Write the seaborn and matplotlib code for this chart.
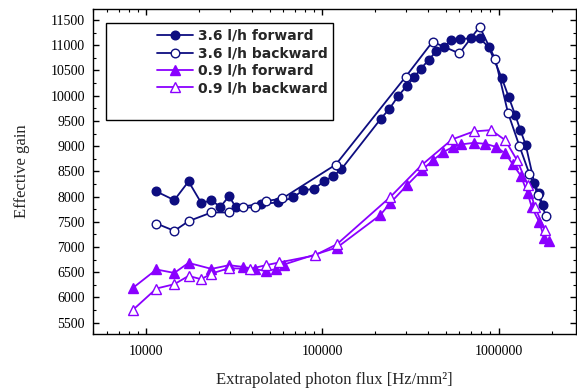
import numpy as np
import pandas as pd
import seaborn as sns
import matplotlib
matplotlib.use("Agg")
import matplotlib.pyplot as plt
from matplotlib.ticker import LogLocator, FixedLocator, FuncFormatter, MultipleLocator
from matplotlib.patches import Rectangle

# photon flux [Hz/mm2] and effective gain
flux_36_fwd = [11390, 14390, 17340, 20460, 23390, 26300, 29440, 32230, 44650, 56120,
               68200, 77640, 89700, 101700, 114300, 127700, 214300, 239900, 269800, 300600,
               331100, 360600, 400200, 443900, 488900, 539700, 602300, 694700, 781000, 881700,
               1044000, 1143000, 1245000, 1328000, 1426000, 1597000, 1690000, 1779000]
gain_36_fwd = [8101, 7929, 8300, 7875, 7923, 7796, 8008, 7784, 7855, 7883,
               7982, 8127, 8153, 8300, 8399, 8538, 9542, 9740, 9998, 10190,
               10363, 10528, 10706, 10885, 10964, 11097, 11117, 11143, 11143, 10958,
               10349, 9972, 9615, 9327, 9030, 8272, 8068, 7840]

flux_36_bwd = [11390, 14390, 17340, 23390, 29440, 35520, 41290, 47640, 59130, 118900,
               296700, 421700, 598700, 781000, 959100, 1132000, 1315000, 1496000, 1682000, 1862000]
gain_36_bwd = [7466, 7320, 7512, 7685, 7685, 7784, 7784, 7909, 7963, 8633,
               10375, 11069, 10839, 11367, 10720, 9661, 9000, 8455, 8028, 7611]

flux_09_fwd = [8333, 11390, 14390, 17340, 23390, 29440, 35520, 41290, 47640, 54240,
               60430, 120900, 212600, 242200, 302100, 366300, 425300, 484400, 548100, 612400,
               725000, 842100, 969200, 1092000, 1205000, 1337000, 1465000, 1542000, 1706000, 1820000,
               1923000]
gain_09_fwd = [6183, 6554, 6486, 6685, 6566, 6639, 6605, 6560, 6526, 6560,
               6653, 6990, 7631, 7869, 8226, 8524, 8722, 8881, 8980, 9034,
               9066, 9046, 8986, 8855, 8643, 8415, 8062, 7796, 7492, 7175,
               7121]

flux_09_bwd = [8333, 11390, 14390, 17340, 20460, 23390, 29440, 38710, 47640, 56620,
               90140, 120900, 242200, 365400, 544600, 723400, 908000, 1092000, 1273000, 1468000,
               1614000, 1827000]
gain_09_bwd = [5746, 6177, 6262, 6427, 6361, 6474, 6580, 6566, 6639, 6693,
               6832, 7056, 7988, 8623, 9133, 9292, 9318, 9119, 8722, 8226,
               7790, 7340]

labels = ["3.6 l/h forward", "3.6 l/h backward", "0.9 l/h forward", "0.9 l/h backward"]
x_ticks = [10000, 100000, 1000000]
y_ticks = list(range(5500, 12000, 500))

navy = "#0d0d80"
violet = "#8a00ff"

sns.set_style("ticks")
plt.rcParams["font.family"] = ["Liberation Serif", "DejaVu Serif"]

fig, ax = plt.subplots(figsize=(5.77, 3.90), dpi=100)
fig.subplots_adjust(left=0.1607, right=0.998, top=0.977, bottom=0.1436)

series = [
    (flux_36_fwd, gain_36_fwd, navy, "o", navy, 6.2),
    (flux_36_bwd, gain_36_bwd, navy, "o", "white", 6.2),
    (flux_09_fwd, gain_09_fwd, violet, "^", violet, 6.8),
    (flux_09_bwd, gain_09_bwd, violet, "^", "white", 6.8),
]
for (x, y, c, m, fc, ms), lab in zip(series, labels):
    df = pd.DataFrame({"flux": x, "gain": y})
    sns.lineplot(data=df, x="flux", y="gain", ax=ax, sort=False, color=c, lw=1.3,
                 marker=m, markersize=ms, markerfacecolor=fc, markeredgecolor=c,
                 markeredgewidth=1.0, label=lab)

ax.set_xscale("log")
ax.set_xlim(4950, 2.75e6)
ax.set_ylim(5275, 11720)
ax.xaxis.set_major_locator(FixedLocator(x_ticks))
ax.xaxis.set_major_formatter(FuncFormatter(lambda v, p: "%d" % round(v)))
ax.xaxis.set_minor_locator(LogLocator(base=10, subs=np.arange(2, 10)))
ax.yaxis.set_major_locator(FixedLocator(y_ticks))
ax.yaxis.set_minor_locator(MultipleLocator(250))

for s in ax.spines.values():
    s.set_visible(True)
    s.set_linewidth(1.0)
    s.set_color("black")
ax.tick_params(which="both", direction="in", top=True, right=True, colors="black",
               labelsize=10)
ax.tick_params(which="major", length=4.5, width=1.0)
ax.tick_params(which="minor", length=2.5, width=0.8)
ax.tick_params(axis="y", pad=5.5)
ax.tick_params(axis="x", pad=8)

ax.set_xlabel("Extrapolated photon flux [Hz/mm²]", fontsize=12, labelpad=10)
ax.set_ylabel("Effective gain", fontsize=12, labelpad=15)

# legend frame drawn separately, the legend itself without frame
ax.add_patch(Rectangle((0.0275, 0.658), 0.47, 0.299, transform=ax.transAxes,
                       fill=False, edgecolor="black", lw=1.0, zorder=5))
ax.legend(loc="upper left", bbox_to_anchor=(0.118, 0.96), frameon=False,
          borderpad=0, labelspacing=0.25, handlelength=2.6, handletextpad=0.35,
          prop={"family": "DejaVu Sans", "weight": "bold", "size": 10})

fig.savefig("out.png", dpi=100)
